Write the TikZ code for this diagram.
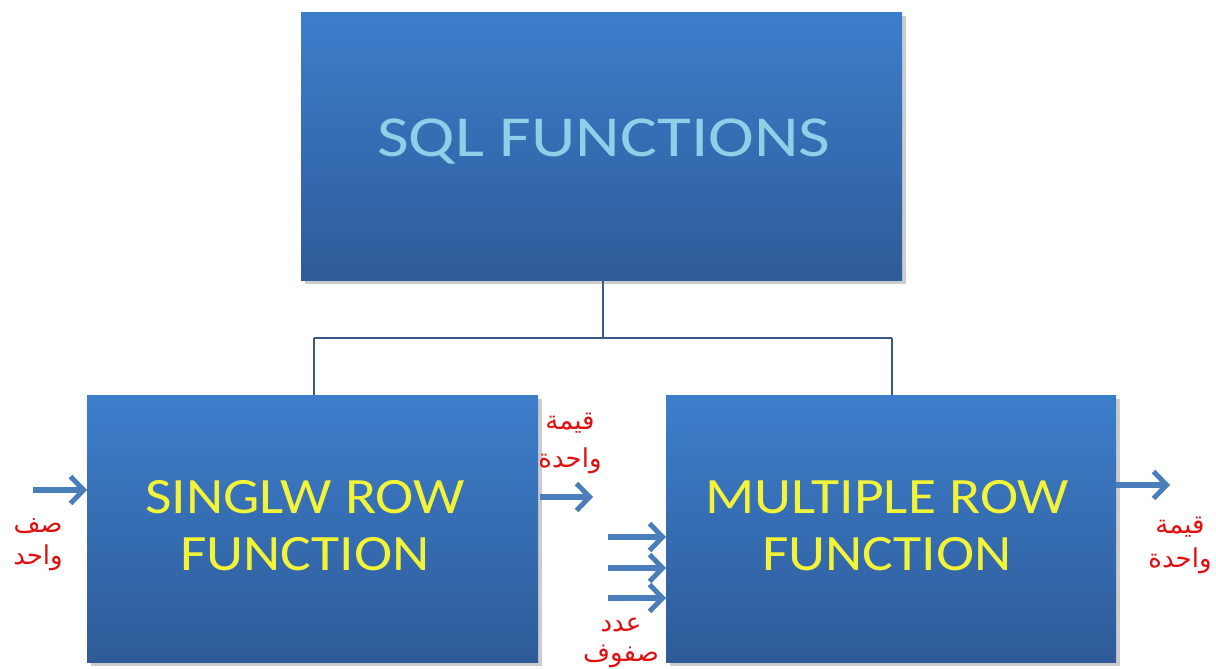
\documentclass[tikz,border=0pt]{standalone}
\usepackage{fontspec}
\setmainfont{Carlito}
\newfontfamily\arabicfont[Script=Arabic]{DejaVu Sans}
\TeXXeTstate=1
\usetikzlibrary{arrows.meta,shadows}
\definecolor{boxtop}{HTML}{3D7ECC}
\definecolor{boxbot}{HTML}{2E5B98}
\definecolor{sqltxt}{HTML}{8ED0E8}
\definecolor{yel}{HTML}{F3F338}
\definecolor{arr}{HTML}{4A7EBB}
\definecolor{conn}{HTML}{3A5A85}
\definecolor{lab}{HTML}{E01010}
\newcommand{\hs}[2]{\scalebox{#1}[1]{#2}}
\tikzset{
  fbox/.style={rectangle, anchor=north west, inner sep=0pt, top color=boxtop, bottom color=boxbot, draw=none,
    drop shadow={shadow xshift=4pt, shadow yshift=-4pt, opacity=0.4}},
  flow/.style={draw=arr, line width=5.5pt, -{Straight Barb[length=13pt,width=27pt,line width=5pt]}},
  conline/.style={draw=conn, line width=1.1pt},
  arlabel/.style={text=lab, font=\arabicfont\fontsize{26}{30}\selectfont, align=center, inner sep=0pt},
  boxtxt/.style={text=yel, font=\fontsize{51}{57}\selectfont, align=center}
}
\begin{document}
\begin{tikzpicture}[x=1pt,y=-1pt]
\useasboundingbox (0,0) rectangle (1216,669);
% boxes
\node[fbox, minimum width=601pt, minimum height=268pt] (top) at (301,12) {};
\node[text=sqltxt, font=\fontsize{58}{66}\selectfont] (toptxt) at (604,142) {\hs{1.19}{SQL FUNCTIONS}};
\node[fbox, minimum width=451pt, minimum height=267pt] (left) at (87,395) {};
\node[boxtxt] (lefttxt) at (305,526) {\hs{1.13}{SINGLW ROW}\\\hs{1.13}{FUNCTION}};
\node[fbox, minimum width=450pt, minimum height=267pt] (right) at (666,395) {};
\node[boxtxt] (righttxt) at (887,526) {\hs{1.13}{MULTIPLE ROW}\\\hs{1.13}{FUNCTION}};
% connectors
\coordinate (tb) at (603,280);
\coordinate (hub) at (603,338);
\coordinate (hl) at (314,338);
\coordinate (hr) at (892,338);
\draw[conline] (tb) -- (hub);
\draw[conline] (hl) -- (hr);
\draw[conline] (hl) -- (hl |- left.north);
\draw[conline] (hr) -- (hr |- right.north);
% arrows
\coordinate (in1) at (33,490);
\draw[flow] (in1) -- (left.west |- in1);
\coordinate (o1a) at (540,497);
\coordinate (o1b) at (593,497);
\draw[flow] (o1a) -- (o1b);
\foreach \y/\n in {537/a,568/b,598/c}{
  \coordinate (m\n) at (608,\y);
  \draw[flow] (m\n) -- (right.west |- m\n);
}
\coordinate (out) at (1170,485);
\draw[flow] (right.east |- out) -- (out);
% labels
\node[arlabel] (l1) at (38,545) {\beginR صف\endR\\[2pt]\beginR واحد\endR};
\node[arlabel] (l2) at (570,443) {\beginR قيمة\endR\\[8pt]\beginR واحدة\endR};
\node[arlabel] (l3) at (621,643) {\beginR عدد\endR\\[0pt]\beginR صفوف\endR};
\node[arlabel] (l4) at (1180,545) {\beginR قيمة\endR\\[4pt]\beginR واحدة\endR};
\end{tikzpicture}
\end{document}
